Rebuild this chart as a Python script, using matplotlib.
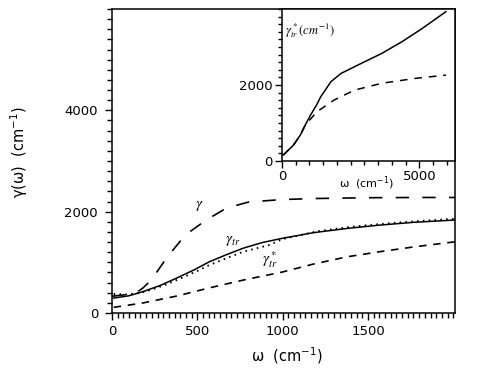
import matplotlib.pyplot as plt
from matplotlib.ticker import MultipleLocator, FixedLocator

# main panel data (omega in cm^-1, gamma in cm^-1)
w_gamma = [0, 100, 150, 180, 230, 325, 430, 550, 670, 800, 1000, 1200, 1500, 1800, 2010]
gamma = [330, 370, 420, 490, 650, 1110, 1540, 1830, 2070, 2190, 2240, 2260, 2275, 2280, 2280]

w_tr = [10, 100, 180, 280, 380, 480, 570, 670, 770, 880, 1000, 1180, 1380, 1570, 1770, 2010]
gamma_tr = [295, 340, 420, 540, 690, 850, 1010, 1150, 1280, 1390, 1475, 1585, 1670, 1735, 1790, 1835]

w_trs = [10, 80, 150, 200, 300, 400, 500, 570, 670, 770, 920, 1000, 1200, 1400, 1600, 1800, 2010]
gamma_trs = [375, 365, 390, 425, 540, 680, 830, 945, 1080, 1210, 1340, 1460, 1610, 1700, 1765, 1815, 1860]

w_low = [10, 180, 380, 570, 770, 1000, 1180, 1380, 1570, 1770, 2010]
gamma_low = [112, 197, 335, 495, 650, 810, 965, 1110, 1210, 1305, 1405]

# inset data
w_in = [50, 420, 670, 850, 1040, 1280, 1410, 1780, 2150, 2890, 3630, 4370, 5110, 5970]
gin_solid = [158, 420, 685, 950, 1210, 1500, 1690, 2085, 2305, 2570, 2830, 3140, 3490, 3930]
w_in_d = [50, 420, 670, 850, 1280, 1900, 2640, 3630, 4860, 5970]
gin_dash = [158, 420, 685, 950, 1300, 1605, 1865, 2045, 2175, 2260]

fig = plt.figure(figsize=(4.91, 3.69), dpi=100)
ax = fig.add_axes([0.2281, 0.1518, 0.6986, 0.8238])

ax.plot(w_gamma, gamma, color='black', lw=1.2, dashes=(8, 8))
ax.plot(w_tr, gamma_tr, color='black', lw=1.1)
ax.plot(w_trs, gamma_trs, color='black', lw=1.4, linestyle=(0, (0.8, 2.2)))
ax.plot(w_low, gamma_low, color='black', lw=1.2, dashes=(4.5, 4))

ax.set_xlim(0, 2010)
ax.set_ylim(0, 6000)
ax.xaxis.set_major_locator(FixedLocator([0, 500, 1000, 1500]))
ax.xaxis.set_minor_locator(MultipleLocator(500 / 15))
ax.yaxis.set_major_locator(FixedLocator([0, 2000, 4000]))
ax.yaxis.set_minor_locator(MultipleLocator(200))
ax.tick_params(which='both', direction='out', width=1.0, labelsize=9.5, colors='black')
ax.tick_params(which='major', length=5)
ax.tick_params(which='minor', length=3.5)
ax.tick_params(axis='y', pad=5)
for s in ax.spines.values():
    s.set_linewidth(1.1)

ax.set_xlabel('\u03c9  (cm$^{-1}$)', fontsize=10.5)
ax.xaxis.set_label_coords(0.51, -0.105)
ax.set_ylabel('\u03b3(\u03c9)  (cm$^{-1}$)', fontsize=10.5)
ax.yaxis.set_label_coords(-0.24, 0.53)

ax.text(512, 2130, r'$\gamma$', fontsize=11, ha='center', va='center', math_fontfamily='stix')
ax.text(706, 1440, r'$\gamma_{tr}$', fontsize=11, ha='center', va='center', math_fontfamily='stix')
ax.text(923, 1045, r'$\gamma^*_{tr}$', fontsize=11, ha='center', va='center', math_fontfamily='stix')

# inset, right edge shared with the main frame
axin = fig.add_axes([0.5743, 0.5637, 0.3524, 0.4119])
axin.plot(w_in, gin_solid, color='black', lw=1.1)
axin.plot(w_in_d, gin_dash, color='black', lw=1.1, dashes=(5, 4.5))
axin.set_xlim(0, 6300)
axin.set_ylim(0, 4000)
axin.xaxis.set_major_locator(FixedLocator([0, 5000]))
axin.xaxis.set_minor_locator(MultipleLocator(500))
axin.yaxis.set_major_locator(FixedLocator([0, 2000]))
axin.yaxis.set_minor_locator(MultipleLocator(200))
axin.tick_params(which='both', direction='out', width=1.0, labelsize=9.5, pad=1.5)
axin.tick_params(which='major', length=5)
axin.tick_params(which='minor', length=3)
for s in axin.spines.values():
    s.set_linewidth(1.1)
axin.text(0.49, -0.145, '\u03c9  (cm$^{-1}$)', transform=axin.transAxes,
          fontsize=8, ha='center', va='center')
axin.text(0.02, 0.86, r'$\gamma^*_{tr}(cm^{-1})$', transform=axin.transAxes,
          fontsize=9, ha='left', va='center', math_fontfamily='stix')

fig.savefig('out.png', dpi=100)
